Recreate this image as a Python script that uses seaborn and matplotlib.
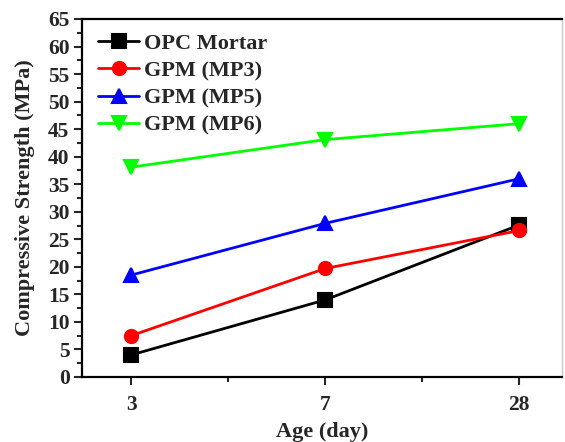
import matplotlib
matplotlib.use("Agg")
import matplotlib.pyplot as plt
import seaborn as sns
import pandas as pd
from matplotlib.ticker import MultipleLocator, FixedLocator

ages = ["3", "7", "28"]
series = ["OPC Mortar", "GPM (MP3)", "GPM (MP5)", "GPM (MP6)"]
opc = [4.0, 14.0, 27.6]
mp3 = [7.5, 19.7, 26.6]
mp5 = [18.5, 27.9, 36.0]
mp6 = [38.1, 43.1, 46.0]
colors = ["#000000", "#FF0000", "#0000FF", "#00FF00"]
markers = ["s", "o", "^", "v"]

rows = []
for name, vals in zip(series, [opc, mp3, mp5, mp6]):
    for a, v in zip(ages, vals):
        rows.append({"Age": a, "Strength": v, "Series": name})
df = pd.DataFrame(rows)

sns.set_style("ticks")
plt.rcParams["font.family"] = ["Liberation Serif", "DejaVu Serif"]
plt.rcParams["font.weight"] = "bold"
plt.rcParams["axes.labelweight"] = "bold"

fig = plt.figure(figsize=(5.65, 4.42), dpi=100)
ax = fig.add_axes([82 / 565, 1 - 377 / 442, 480 / 565, 358 / 442])

sns.pointplot(data=df, x="Age", y="Strength", hue="Series", order=ages,
              hue_order=series, palette=colors, markers=markers,
              linestyles="-", errorbar=None, markersize=9.5, linewidth=2,
              ax=ax)

ax.set_xlim(-0.253, 2.22)
ax.set_ylim(0, 65)
ax.yaxis.set_major_locator(MultipleLocator(5))
ax.yaxis.set_minor_locator(MultipleLocator(2.5))
ax.xaxis.set_minor_locator(FixedLocator([0.5, 1.5]))

ax.tick_params(axis="both", which="major", direction="out", length=6,
               width=1.5, labelsize=15.5)
ax.tick_params(axis="x", which="major", pad=7)
ax.tick_params(axis="y", which="major", pad=3)
ax.tick_params(axis="both", which="minor", direction="out", length=3.5,
               width=1.5)
for lab in ax.get_xticklabels() + ax.get_yticklabels():
    lab.set_fontweight("bold")

for s in ["left", "bottom", "top"]:
    ax.spines[s].set_linewidth(1.6)
    ax.spines[s].set_color("black")
ax.spines["right"].set_linewidth(1.0)
ax.spines["right"].set_color("#c8c8c8")

ax.set_xlabel("Age (day)", fontsize=16, fontweight="bold", labelpad=5)
ax.set_ylabel("Compressive Strength (MPa)", fontsize=16, fontweight="bold",
              labelpad=9)

handles, labels = ax.get_legend_handles_labels()
ax.legend(handles, labels, loc="upper left", frameon=False,
          bbox_to_anchor=((98 - 82) / 480, (377 - 33) / 358),
          borderpad=0, borderaxespad=0, handlelength=1.85,
          handletextpad=0.2, labelspacing=0.31,
          prop={"family": ["Liberation Serif"], "weight": "bold", "size": 16})

fig.savefig("out.png", dpi=100)
